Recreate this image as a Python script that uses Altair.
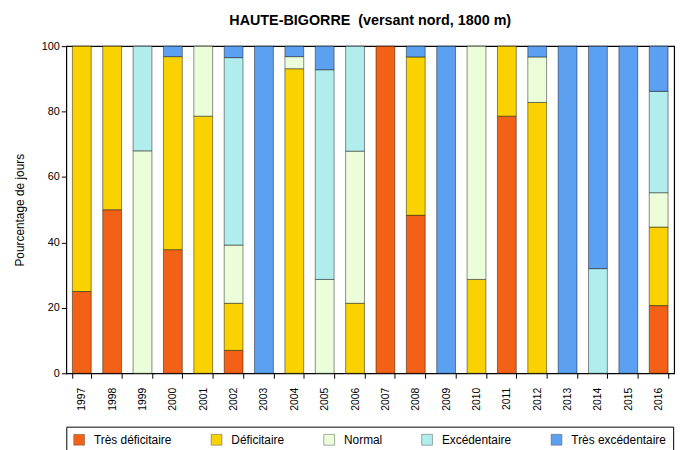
import altair as alt
import pandas as pd

years = ["1997", "1998", "1999", "2000", "2001", "2002", "2003", "2004", "2005", "2006",
         "2007", "2008", "2009", "2010", "2011", "2012", "2013", "2014", "2015", "2016"]
categories = ["Très déficitaire", "Déficitaire", "Normal", "Excédentaire", "Très excédentaire"]
colors = ["#F26115", "#F9D200", "#EBFED9", "#B0EDEC", "#5CA0F2"]

tres_deficitaire = [25, 50, 0, 37.8, 0, 7.0, 0, 0, 0, 0, 100, 48.3, 0, 0, 78.6, 0, 0, 0, 0, 20.7]
deficitaire = [75, 50, 0, 59.0, 78.6, 14.4, 0, 93.1, 0, 21.4, 0, 48.4, 0, 28.7, 21.4, 82.8, 0, 0, 0, 24.0]
normal = [0, 0, 68, 0, 21.4, 17.8, 0, 3.7, 28.7, 46.5, 0, 0, 0, 71.3, 0, 13.9, 0, 0, 0, 10.5]
excedentaire = [0, 0, 32, 0, 0, 57.3, 0, 0, 64.1, 32.1, 0, 0, 0, 0, 0, 0, 0, 32, 0, 31.0]
tres_excedentaire = [0, 0, 0, 3.2, 0, 3.5, 100, 3.2, 7.2, 0, 0, 3.3, 100, 0, 0, 3.3, 100, 68, 100, 13.8]

series = [tres_deficitaire, deficitaire, normal, excedentaire, tres_excedentaire]
rows = []
for ci, (cat, vals) in enumerate(zip(categories, series)):
    for y, v in zip(years, vals):
        if v > 0:
            rows.append({"annee": y, "categorie": cat, "valeur": v, "ordre": ci})
df = pd.DataFrame(rows)

chart = alt.Chart(df).mark_bar(
    stroke="black", strokeOpacity=0.45, strokeWidth=1
).encode(
    x=alt.X("annee:N", sort=years, title=None,
            scale=alt.Scale(paddingInner=0.38, paddingOuter=0.2),
            axis=alt.Axis(labelAngle=-90, labelFontSize=10.5, labelFont="Liberation Sans",
                          labelColor="black", tickBand="extent", tickColor="black",
                          tickSize=5, domain=False, labelPadding=9, labelBaseline="middle",
                          labelAlign="right")),
    y=alt.Y("valeur:Q", stack="zero", title="Pourcentage de jours",
            scale=alt.Scale(domain=[0, 100], nice=False),
            axis=alt.Axis(values=[0, 20, 40, 60, 80, 100], grid=False, domain=False,
                          tickColor="black", tickSize=5, labelFontSize=11,
                          labelFont="Liberation Sans", labelColor="black",
                          titleFont="Liberation Sans", titleFontSize=12,
                          titleFontWeight="normal", titleColor="black", titlePadding=15)),
    color=alt.Color("categorie:N", sort=categories,
                    scale=alt.Scale(domain=categories, range=colors),
                    legend=alt.Legend(title=None, orient="none", legendX=0, legendY=385,
                                      direction="horizontal", columns=5, columnPadding=38,
                                      symbolType="square", symbolSize=120,
                                      symbolStrokeColor="#555", symbolStrokeWidth=0.5,
                                      labelFontSize=12, labelFont="Liberation Sans",
                                      labelColor="black", strokeColor="black",
                                      padding=7, labelOffset=9)),
    order=alt.Order("ordre:Q", sort="ascending"),
).properties(
    width=615, height=331,
    padding={"left": 59, "top": 36, "right": 12, "bottom": 75},
    autosize=alt.AutoSizeParams(type="none"),
    title=alt.TitleParams("HAUTE-BIGORRE\u00a0\u00a0(versant nord, 1800 m)", font="Liberation Sans",
                          fontSize=14.5, fontWeight="bold", color="black", offset=12),
).configure_view(stroke="black", strokeWidth=1.2)

chart.save("out.html", embed_options={"renderer": "svg", "actions": False})
